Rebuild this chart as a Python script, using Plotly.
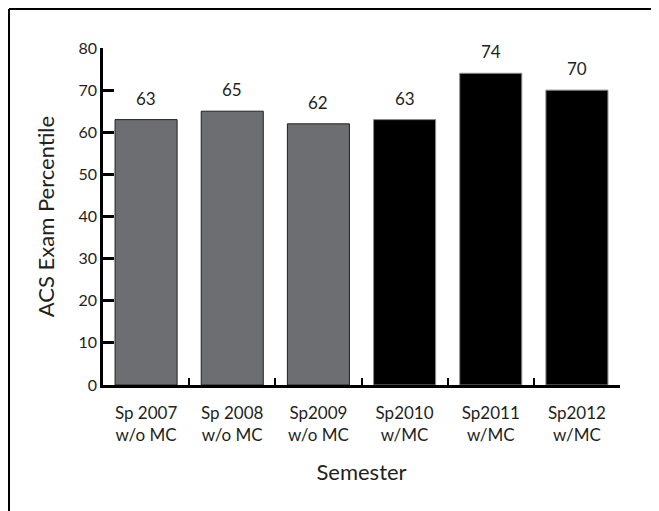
import plotly.graph_objects as go

categories = ["Sp 2007<br>w/o MC", "Sp 2008<br>w/o MC", "Sp2009<br>w/o MC",
              "Sp2010<br>w/MC", "Sp2011<br>w/MC", "Sp2012<br>w/MC"]
values = [63, 65, 62, 63, 74, 70]
bar_colors = ["#6d6e71", "#6d6e71", "#6d6e71", "#000000", "#000000", "#000000"]
edge_colors = ["#231f20", "#231f20", "#231f20", "#8a8a8a", "#8a8a8a", "#8a8a8a"]
y_ticks = [0, 10, 20, 30, 40, 50, 60, 70, 80]

FONT = "Lato, 'Open Sans', sans-serif"
TXT = "#231f20"

fig = go.Figure(go.Bar(
    x=categories, y=values,
    marker=dict(color=bar_colors, line=dict(color=edge_colors, width=1)),
    showlegend=False,
))

for c, v in zip(categories, values):
    fig.add_annotation(x=c, y=v, text=str(v), showarrow=False,
                       yanchor="bottom", yshift=9,
                       font=dict(size=17, color=TXT, family=FONT))

L, R, T, B = 95, 47, 40, 134
W, H = 659, 511
pw, ph = W - L - R, H - T - B
fx = (1 - L) / pw
fy = (H - B - 1) / ph
fig.add_shape(type="line", xref="paper", yref="paper", x0=fx, x1=1.3, y0=fy, y1=fy,
              line=dict(color="#000000", width=2))
fig.add_shape(type="line", xref="paper", yref="paper", x0=fx, x1=fx, y0=-0.6, y1=fy,
              line=dict(color="#000000", width=2))

fig.update_layout(
    width=W, height=H,
    margin=dict(l=L, r=R, t=T, b=B),
    paper_bgcolor="white", plot_bgcolor="white",
    bargap=0.28,
    font=dict(family=FONT, color=TXT),
    xaxis=dict(
        showline=True, linecolor="#000000", linewidth=2.5,
        ticks="inside", tickson="boundaries", ticklen=7, tickwidth=2, tickcolor="#000000",
        tickfont=dict(size=17, color=TXT), ticklabelstandoff=11,
        showgrid=False, zeroline=False,
        title=dict(text="Semester", font=dict(size=22, color=TXT), standoff=21),
    ),
    yaxis=dict(
        range=[0, 80], tickvals=y_ticks, ticktext=[str(t) for t in y_ticks],
        showline=True, linecolor="#000000", linewidth=2.5,
        ticks="inside", ticklen=11, tickwidth=2.5, tickcolor="#000000",
        tickfont=dict(size=16, color=TXT),
        showgrid=False, zeroline=False,
        title=dict(text="ACS Exam Percentile", font=dict(size=22, color=TXT), standoff=18),
    ),
)

fig.write_html("out.html")
